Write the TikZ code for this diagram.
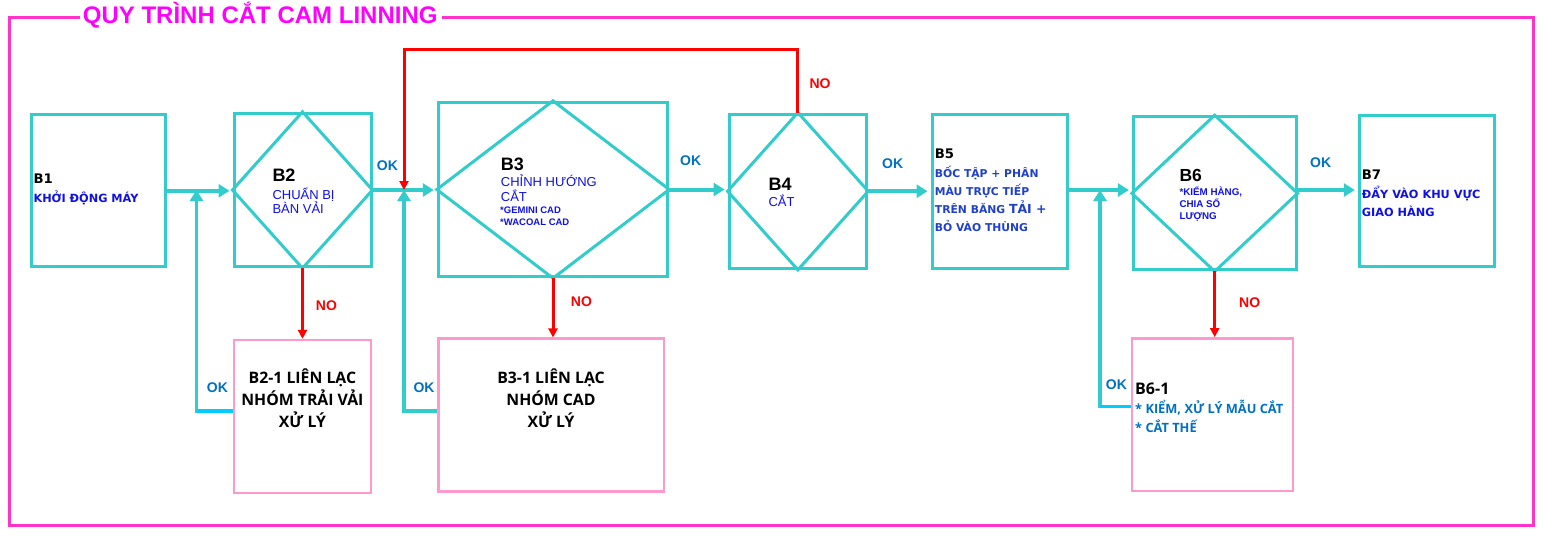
\documentclass[tikz,border=0pt]{standalone}
\usepackage{fontspec}
\setmainfont{Liberation Sans}
\newfontfamily\tahomafont{DejaVu Sans}
\newfontfamily\segoefont{Open Sans}
\usetikzlibrary{arrows.meta,positioning}

\definecolor{flowteal}{RGB}{51,204,204}
\definecolor{backcyan}{RGB}{0,204,255}
\definecolor{fixpink}{RGB}{255,153,204}
\definecolor{framepink}{RGB}{255,51,204}
\definecolor{titlemag}{RGB}{255,0,255}
\definecolor{okblue}{RGB}{0,112,192}
\definecolor{txtblue}{RGB}{16,16,230}
\definecolor{tapblue}{RGB}{32,64,200}

\begin{document}
\begin{tikzpicture}[
  x=1pt, y=-1pt,
  >={Triangle[length=11pt,width=13pt]},
  box/.style={draw=flowteal, line width=3pt, inner sep=0pt},
  fixbox/.style={draw=fixpink, line width=2.5pt, inner sep=0pt},
  gem/.style={draw=flowteal, line width=3pt},
  flow/.style={draw=flowteal, line width=4pt, ->, shorten >=3pt},
  back/.style={draw=flowteal, line width=3.5pt, ->},
  backlow/.style={draw=backcyan, line width=3.5pt},
  noflow/.style={draw=red, line width=3pt, -{Triangle[length=9pt,width=9pt]}},
  frame/.style={draw=framepink, line width=3pt},
  txt/.style={anchor=base west, inner sep=0pt, align=left},
  ok/.style={txt, text=okblue, font=\bfseries\fontsize{14}{14}\selectfont},
  no/.style={txt, text=red, font=\bfseries\fontsize{14}{14}\selectfont},
  bigb/.style={txt, font=\bfseries\fontsize{18}{18}\selectfont},
  tahb/.style={txt, font=\tahomafont\bfseries\fontsize{13.2}{14}\selectfont},
  fixtxt/.style={anchor=base, inner sep=0pt, align=center, font=\segoefont\bfseries\fontsize{15.8}{22}\selectfont}
]
  \useasboundingbox (0,0) rectangle (1546,542);

  % Frame and title
  \node[txt, text=titlemag, font=\bfseries\fontsize{24}{24}\selectfont] (title) at (82.7,23.3) {QUY TRÌNH CẮT CAM LINNING};
  \draw[frame] (80,17.3) -| (9,525.7) -| (1533.3,17.3) -- (442,17.3);

  % Main row
  \node[box, minimum width=134pt, minimum height=152pt] (B1) at (98.7,190.8) {};
  \node[box, minimum width=137pt, minimum height=153.4pt] (B2) at (302.5,190) {};
  \node[box, minimum width=229.4pt, minimum height=174.4pt] (B3) at (553,189.5) {};
  \node[box, minimum width=137.7pt, minimum height=154.3pt] (B4) at (797.9,191.2) {};
  \node[box, minimum width=135.7pt, minimum height=153.3pt] (B5) at (999.9,191.6) {};
  \node[box, minimum width=162.7pt, minimum height=153.3pt] (B6) at (1214.7,193.3) {};
  \node[box, minimum width=135pt, minimum height=151pt] (B7) at (1426.8,191.2) {};

  % Diamonds
  \draw[gem] (B2.north) -- (B2.east) -- (B2.south) -- (B2.west) -- cycle;
  \draw[gem] (B3.north) -- (B3.east) -- (B3.south) -- (B3.west) -- cycle;
  \draw[gem] (B4.north) -- (B4.east) -- (B4.south) -- (B4.west) -- cycle;
  \draw[gem] (B6.north) -- (B6.east) -- (B6.south) -- (B6.west) -- cycle;

  % Fix-up boxes
  \node[fixbox, minimum width=136.7pt, minimum height=152.7pt] (B21) at (302.4,416.4) {};
  \node[fixbox, minimum width=225.7pt, minimum height=152.6pt] (B31) at (551.2,415) {};
  \node[fixbox, minimum width=161pt, minimum height=152.7pt] (B61) at (1212.5,414.7) {};

  % Junctions on the main line
  \coordinate (j1) at (196.5,190);
  \coordinate (j2) at (404,190);
  \coordinate (j3) at (1100,190);
  \coordinate (loopc) at (404,49.3);

  % Forward flow
  \draw[flow] (B1.east) -- (B1.east -| B2.west);
  \draw[flow] (B2.east) -- (B2.east -| B3.west);
  \draw[flow] (B3.east) -- (B3.east -| B4.west);
  \draw[flow] (B4.east) -- (B4.east -| B5.west);
  \draw[flow] ([yshift=1.6pt]B5.east) -- ([yshift=1.6pt]B5.east -| B6.west);
  \draw[flow] ([yshift=3.3pt]B6.east) -- ([yshift=3.3pt]B6.east -| B7.west);

  % NO branches
  \draw[noflow] (B2.south) -- (B2.south |- B21.north);
  \draw[noflow] (B3.south) -- (B3.south |- B31.north);
  \draw[noflow] (B6.south) -- (B6.south |- B61.north);
  \draw[noflow] (B4.north) |- (loopc) -- (j2);

  % OK feedback
  \draw[back] ([yshift=5.4pt]B21.west) -| (j1);
  \draw[backlow] ([yshift=5.4pt]B21.west) -- ([yshift=5.4pt]B21.west -| j1);
  \draw[back] ([yshift=4pt]B31.west) -| (j2);
  \draw[back] ([yshift=8pt]B61.west) -| (j3);
  \draw[backlow] ([yshift=8pt]B61.west) -- ([yshift=8pt]B61.west -| j3);

  % Labels on connectors
  \node[ok] (ok1) at (206.7,392.7) {OK};
  \node[ok] (ok2) at (376.7,170.7) {OK};
  \node[ok] (ok3) at (413.3,392.7) {OK};
  \node[ok] (ok4) at (680,165) {OK};
  \node[ok] (ok5) at (882,168) {OK};
  \node[ok] (ok6) at (1105.7,389.3) {OK};
  \node[ok] (ok7) at (1310,167.3) {OK};
  \node[no] (no1) at (315.7,310) {NO};
  \node[no] (no2) at (570.7,306.7) {NO};
  \node[no] (no3) at (809.3,88.3) {NO};
  \node[no] (no4) at (1239,307.7) {NO};

  % Step texts (multi-line nodes sit on their last baseline)
  \node[tahb] (t1a) at (33.3,183.3) {B1};
  \node[txt, text=txtblue, font=\tahomafont\bfseries\fontsize{11.3}{14}\selectfont] (t1b) at (33.3,202.7) {KHỞI ĐỘNG MÁY};

  \node[bigb] (t2a) at (272.3,181.7) {B2};
  \node[txt, text=txtblue, font=\fontsize{13}{14.3}\selectfont] (t2b) at (272.3,213.3) {CHUẨN BỊ\\BÀN VẢI};

  \node[bigb] (t3a) at (500.7,170) {B3};
  \node[txt, text=txtblue, font=\fontsize{13}{15}\selectfont] (t3b) at (500.7,201.7) {CHỈNH HƯỚNG\\CẮT};
  \node[txt, text=txtblue, font=\bfseries\fontsize{9.5}{12.4}\selectfont] (t3c) at (500,225.7) {*GEMINI CAD\\*WACOAL CAD};

  \node[bigb] (t4a) at (768.3,190) {B4};
  \node[txt, text=txtblue, font=\fontsize{13}{15}\selectfont] (t4b) at (768.3,206.7) {CẮT};

  \node[tahb] (t5a) at (934.7,158.3) {B5};
  \node[txt, text=tapblue, font=\tahomafont\bfseries\fontsize{10.8}{18}\selectfont] (t5b) at (934.7,231.7)
    {BỐC TẬP + PHÂN\\MÀU TRỰC TIẾP\\TRÊN BĂNG {\fontsize{12.5}{18}\selectfont TẢI +}\\BỎ VÀO THÙNG};

  \node[bigb, font=\bfseries\fontsize{17.5}{18}\selectfont] (t6a) at (1179.3,181.7) {B6};
  \node[txt, text=txtblue, font=\bfseries\fontsize{9.8}{12}\selectfont] (t6b) at (1179.3,219.7) {*KIỂM HÀNG,\\CHIA SỐ\\LƯỢNG};

  \node[tahb] (t7a) at (1361.7,179) {B7};
  \node[txt, text=txtblue, font=\tahomafont\bfseries\fontsize{11.3}{17.7}\selectfont] (t7b) at (1361.7,216) {ĐẨY VÀO KHU VỰC\\GIAO HÀNG};

  \node[fixtxt] (t21) at (302.4,427.3) {B2-1 LIÊN LẠC\\NHÓM TRẢI VẢI\\XỬ LÝ};
  \node[fixtxt] (t31) at (551,427) {B3-1 LIÊN LẠC\\NHÓM CAD\\XỬ LÝ};

  \node[txt, font=\segoefont\bfseries\fontsize{16}{16}\selectfont] (t61a) at (1135,394.3) {B6-1};
  \node[txt, text=okblue, font=\segoefont\bfseries\fontsize{12.8}{19}\selectfont] (t61b) at (1135,432.3) {* KIỂM, XỬ LÝ MẪU CẮT\\* CẮT THẾ};

\end{tikzpicture}
\end{document}
